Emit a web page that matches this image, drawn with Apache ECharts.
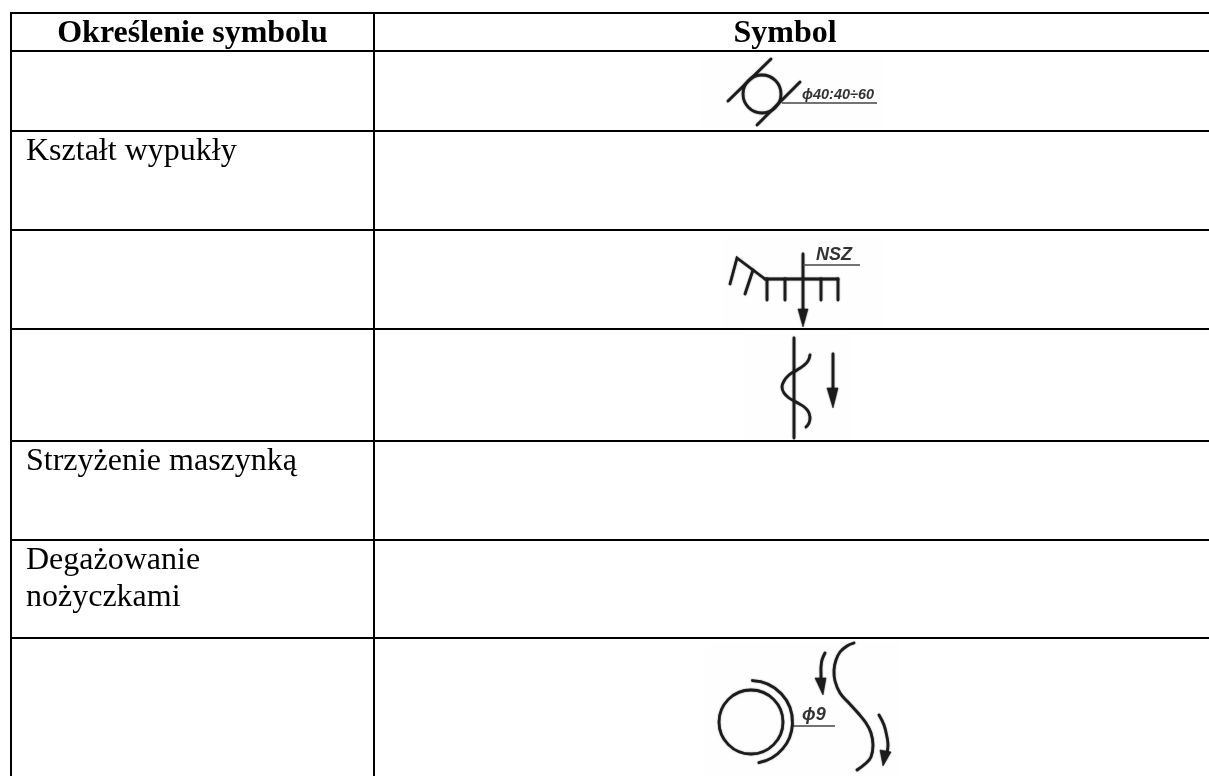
<!DOCTYPE html>
<html>
<head>
<meta charset="utf-8">
<style>html,body{margin:0;padding:0;background:#fff}#chart{width:1209px;height:776px}</style>
<script src="https://cdn.jsdelivr.net/npm/echarts@6/dist/echarts.min.js"></script>
</head>
<body>
<div id="chart"></div>
<script>
// Table text
const headers = ['Określenie symbolu', 'Symbol'];
const rowLabels = ['', 'Kształt wypukły', '', '', 'Strzyżenie maszynką', 'Degażowanie\nnożyczkami', ''];
// Table rules
const rowEdges = [13, 51, 131, 230, 329, 441, 540, 638];
const columnEdges = [11, 374];
const tableRight = 1209, tableBottom = 776;

// Hand-drawn symbols (x, y on the 1209x776 sheet)
const scanPatches = [[700,56,182,72],[722,234,160,94],[745,333,105,106],[705,642,195,134]];
const straightStrokes = [
  [[728,101],[771,59]], [[757,125],[800,82]],
  [[803,254],[803,320]],
  [[765,279],[838,279]], [[767,279],[767,300]], [[785,279],[785,300]],
  [[821,279],[821,300]], [[838,279],[838,300]],
  [[765,279],[737,258],[730,284]], [[753,270],[745,294]],
  [[794,338],[794,438]], [[833,354],[833,392]]
];
const thinStrokes = [
  [[782,103],[877,103]], [[803,265],[860,265]], [[793,726],[835,726]]
];
const curvedStrokes = [
  [[810,355],[808,361],[803,366],[797,370],[789,375],[784,381],[782,387],[784,393],[789,398],[796,402],[803,406],[808,411],[810,417],[809,423],[806,427]],
  [[825,653],[822,660],[821,667],[821,675],[821,682]],
  [[854,643],[847,646],[840,652],[836,660],[834,670],[835,681],[840,693],[848,702],[858,713],[866,723],[871,733],[873,745],[871,757],[865,764],[857,770]],
  [[879,715],[884,725],[887,737],[888,745],[887,753]]
];
const circles = [[762,94,19],[751,722,32]];
const arcs = [[751,722,41.5,-88,79]];
const arrowHeads = [
  [[798,309],[808,309],[803,327]],
  [[827,388],[838,388],[833,408]],
  [[815,678],[826,678],[823,695]],
  [[880,750],[891,752],[883,766]]
];
const symbolTexts = [
  ['ϕ40:40÷60', 802, 95, 14.5],
  ['NSZ', 816, 255, 18],
  ['ϕ9', 802, 715, 18]
];

const ink = '#1c1c1c';
const blur = {shadowBlur: 1.5, shadowColor: 'rgba(0,0,0,0.55)'};
const serif = '"Liberation Serif","Times New Roman",serif';

function rules() {
  const out = [];
  rowEdges.forEach(y => out.push([columnEdges[0] - 1, y, tableRight, y]));
  columnEdges.forEach(x => out.push([x, rowEdges[0], x, tableBottom]));
  return out;
}
function cellTexts() {
  const out = [
    [headers[0], (columnEdges[0] + columnEdges[1]) / 2, 34, 'center', 'bold'],
    [headers[1], 785, 34, 'center', 'bold']
  ];
  rowLabels.forEach((label, i) => {
    if (!label) return;
    label.split('\n').forEach((line, k) => {
      out.push([line, 26, rowEdges[i + 1] + 21 + k * 37, 'left', 'normal']);
    });
  });
  return out;
}
const texts = cellTexts();
const pt = (api, p) => api.coord(p);
const base = {type: 'custom', coordinateSystem: 'cartesian2d', silent: true, clip: false};

const chart = echarts.init(document.getElementById('chart'), null, {renderer: 'canvas'});
chart.setOption({
  animation: false,
  backgroundColor: '#fff',
  grid: {left: 0, right: 0, top: 0, bottom: 0},
  xAxis: {type: 'value', min: 0, max: 1209, show: false},
  yAxis: {type: 'value', min: 0, max: 776, inverse: true, show: false},
  series: [
    Object.assign({}, base, { // faint scan noise behind the pasted symbols
      data: scanPatches, encode: {x: 0, y: 1},
      renderItem(params, api) {
        const c = api.coord([api.value(0), api.value(1)]);
        const s = api.size([api.value(2), api.value(3)]);
        return {type: 'rect', shape: {x: c[0], y: c[1], width: s[0], height: s[1]},
                style: {fill: '#fefefe'}};
      }
    }),
    Object.assign({}, base, { // table rules
      data: rules(), encode: {x: [0, 2], y: [1, 3]},
      renderItem(params, api) {
        const a = api.coord([api.value(0), api.value(1)]);
        const b = api.coord([api.value(2), api.value(3)]);
        return {type: 'line', shape: {x1: a[0], y1: a[1], x2: b[0], y2: b[1]},
                style: {stroke: '#000', lineWidth: 2}};
      }
    }),
    Object.assign({}, base, { // cell text
      data: texts.map((t, i) => [t[1], t[2], i]), encode: {x: 0, y: 1},
      renderItem(params, api) {
        const t = texts[api.value(2)];
        const c = api.coord([t[1], t[2]]);
        return {type: 'text', style: {
          text: t[0], x: c[0], y: c[1], align: t[3], verticalAlign: 'middle',
          font: t[4] + ' 32px ' + serif, fill: '#000'}};
      }
    }),
    Object.assign({}, base, { // straight strokes
      data: straightStrokes.map((s, i) => [s[0][0], s[0][1], i]), encode: {x: 0, y: 1},
      renderItem(params, api) {
        const s = straightStrokes[api.value(2)];
        return {type: 'polyline', shape: {points: s.map(p => pt(api, p))},
                style: Object.assign({stroke: ink, lineWidth: 2.8, fill: null, lineCap: 'round'}, blur)};
      }
    }),
    Object.assign({}, base, { // thin leader lines
      data: thinStrokes.map((s, i) => [s[0][0], s[0][1], i]), encode: {x: 0, y: 1},
      renderItem(params, api) {
        const s = thinStrokes[api.value(2)];
        return {type: 'polyline', shape: {points: s.map(p => pt(api, p))},
                style: {stroke: '#444', lineWidth: 1.4, fill: null}};
      }
    }),
    Object.assign({}, base, { // curved strokes
      data: curvedStrokes.map((s, i) => [s[0][0], s[0][1], i]), encode: {x: 0, y: 1},
      renderItem(params, api) {
        const s = curvedStrokes[api.value(2)];
        return {type: 'polyline', shape: {points: s.map(p => pt(api, p)), smooth: 0.4},
                style: Object.assign({stroke: ink, lineWidth: 2.8, fill: null, lineCap: 'round'}, blur)};
      }
    }),
    Object.assign({}, base, { // circles
      data: circles, encode: {x: 0, y: 1},
      renderItem(params, api) {
        const c = api.coord([api.value(0), api.value(1)]);
        return {type: 'circle', shape: {cx: c[0], cy: c[1], r: api.size([api.value(2), 0])[0]},
                style: Object.assign({stroke: ink, lineWidth: 2.8, fill: 'none'}, blur)};
      }
    }),
    Object.assign({}, base, { // arc round the second circle
      data: arcs, encode: {x: 0, y: 1},
      renderItem(params, api) {
        const c = api.coord([api.value(0), api.value(1)]);
        return {type: 'arc', shape: {cx: c[0], cy: c[1], r: api.size([api.value(2), 0])[0],
                  startAngle: api.value(3) * Math.PI / 180, endAngle: api.value(4) * Math.PI / 180, clockwise: true},
                style: Object.assign({stroke: ink, lineWidth: 2.8, fill: 'none', lineCap: 'round'}, blur)};
      }
    }),
    Object.assign({}, base, { // arrow heads
      data: arrowHeads.map((s, i) => [s[0][0], s[0][1], i]), encode: {x: 0, y: 1},
      renderItem(params, api) {
        const s = arrowHeads[api.value(2)];
        return {type: 'polygon', shape: {points: s.map(p => pt(api, p))},
                style: Object.assign({fill: ink, stroke: ink, lineWidth: 0.5}, blur)};
      }
    }),
    Object.assign({}, base, { // symbol annotations
      data: symbolTexts.map((t, i) => [t[1], t[2], i]), encode: {x: 0, y: 1},
      renderItem(params, api) {
        const t = symbolTexts[api.value(2)];
        const c = api.coord([t[1], t[2]]);
        return {type: 'text', style: {
          text: t[0], x: c[0], y: c[1], align: 'left', verticalAlign: 'middle',
          font: 'italic bold ' + t[3] + 'px "Liberation Sans",Arial,sans-serif', fill: '#333'}};
      }
    })
  ]
});
</script>
</body>
</html>
